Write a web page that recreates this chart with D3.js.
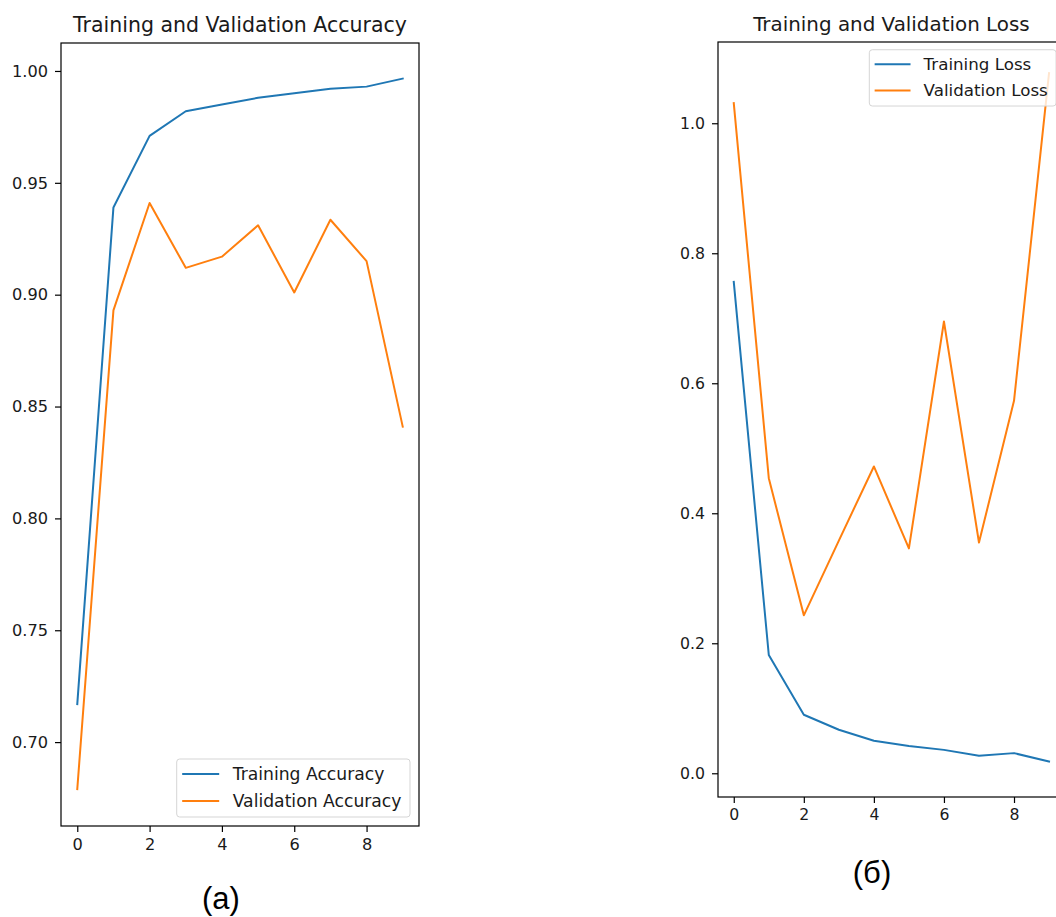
<!DOCTYPE html>
<html>
<head>
<meta charset="utf-8">
<script src="https://cdn.jsdelivr.net/npm/d3@7"></script>
<style>
    body { margin: 0; background: #fff; }
    svg { display: block; }
    text { font-family: "DejaVu Sans", sans-serif; fill: #1a1a1a; }
    .caption { font-family: "Liberation Sans", Arial, sans-serif; fill: #000; }
</style>
</head>
<body>
<svg id="fig"></svg>
<script>
// epochs on the x axis
const epochs = [0, 1, 2, 3, 4, 5, 6, 7, 8, 9];
const epochTicks = [0, 2, 4, 6, 8];

// panel (a): accuracy
const trainAcc = [0.717, 0.939, 0.971, 0.982, 0.985, 0.988, 0.990, 0.992, 0.993, 0.9966];
const valAcc = [0.679, 0.893, 0.941, 0.912, 0.917, 0.931, 0.901, 0.9335, 0.915, 0.841];
const accTicks = [0.70, 0.75, 0.80, 0.85, 0.90, 0.95, 1.00];
const accNames = ["Training Accuracy", "Validation Accuracy"];

// panel (б): loss
const trainLoss = [0.756, 0.182, 0.090, 0.067, 0.050, 0.042, 0.036, 0.027, 0.031, 0.018];
const valLoss = [1.031, 0.454, 0.243, 0.358, 0.472, 0.346, 0.695, 0.355, 0.573, 1.077];
const lossTicks = [0.0, 0.2, 0.4, 0.6, 0.8, 1.0];
const lossNames = ["Training Loss", "Validation Loss"];

const seriesColors = ["#1f77b4", "#ff7f0e"];

const svg = d3.select("#fig")
    .attr("width", 1056)
    .attr("height", 917)
    .attr("viewBox", [0, 0, 1056, 917]);

function drawLineChart(cfg) {
    var chartObj = {};
    const s = cfg.scale;
    chartObj.xScale = d3.scaleLinear().domain([-0.45, 9.45]).range([cfg.left, cfg.right]);
    chartObj.yScale = d3.scaleLinear().domain(cfg.yDomain).range([cfg.bottom, cfg.top]);

    chartObj.render = () => {
        const g = svg.append("g");
        const x = chartObj.xScale, y = chartObj.yScale;

        // lines
        const line = d3.line()
            .x(d => x(d[0]))
            .y(d => y(d[1]));
        cfg.series.forEach((vals, i) => {
            g.append("path")
                .attr("fill", "none")
                .attr("stroke", seriesColors[i])
                .attr("stroke-width", 2)
                .attr("stroke-linejoin", "round")
                .attr("stroke-linecap", "square")
                .attr("d", line(d3.zip(epochs, vals)));
        });

        // axes frame
        g.append("rect")
            .attr("x", cfg.left)
            .attr("y", cfg.top)
            .attr("width", cfg.right - cfg.left)
            .attr("height", cfg.bottom - cfg.top)
            .attr("fill", "none")
            .attr("stroke", "#000")
            .attr("stroke-width", 1.2);

        // x axis
        const xAxisGroup = g.append("g")
            .attr("transform", `translate(0,${cfg.bottom})`)
            .call(d3.axisBottom(x).tickValues(epochTicks).tickFormat(d3.format("d"))
                .tickSize(6).tickPadding(6));
        xAxisGroup.select(".domain").remove();

        // y axis
        const yAxisGroup = g.append("g")
            .attr("transform", `translate(${cfg.left},0)`)
            .call(d3.axisLeft(y).tickValues(cfg.yTicks).tickFormat(d3.format(cfg.yFormat))
                .tickSize(6).tickPadding(7));
        yAxisGroup.select(".domain").remove();

        [xAxisGroup, yAxisGroup].forEach(ax => {
            ax.attr("font-family", null).attr("font-size", null);
            ax.selectAll(".tick line").attr("stroke", "#000").attr("stroke-width", 1.2);
            ax.selectAll(".tick text").style("font-size", (16.2 * s) + "px");
        });

        // title
        g.append("text")
            .attr("x", (cfg.left + cfg.right) / 2)
            .attr("y", cfg.top - 11)
            .attr("text-anchor", "middle")
            .style("font-size", (20.5 * s) + "px")
            .text(cfg.title);

        // legend
        const fs = 17.2 * s;
        const leg = g.append("g");
        const box = leg.append("rect");
        let maxW = 0;
        cfg.names.forEach((name, i) => {
            const rowY = 15 * s + i * 27 * s;
            leg.append("line")
                .attr("x1", 5.5 * s).attr("x2", 5.5 * s + 37 * s)
                .attr("y1", rowY).attr("y2", rowY)
                .attr("stroke", seriesColors[i])
                .attr("stroke-width", 2);
            const t = leg.append("text")
                .attr("x", 56 * s)
                .attr("y", rowY)
                .attr("dy", "0.36em")
                .style("font-size", fs + "px")
                .text(name);
            maxW = Math.max(maxW, t.node().getComputedTextLength());
        });
        const boxW = 56 * s + maxW + 8.5 * s;
        const boxH = 58 * s;
        box.attr("width", boxW).attr("height", boxH)
            .attr("rx", 3)
            .attr("fill", "#fff")
            .attr("fill-opacity", 0.8)
            .attr("stroke", "#d5d5d5")
            .attr("stroke-width", 1);
        const lx = cfg.right - 9 * s - boxW;
        const ly = cfg.legendPos === "lower right" ? cfg.bottom - 9 * s - boxH : cfg.top + 8 * s;
        leg.attr("transform", `translate(${lx},${ly})`);

        // caption under the panel
        svg.append("text")
            .attr("class", "caption")
            .attr("x", cfg.captionX)
            .attr("y", cfg.captionY)
            .attr("text-anchor", "middle")
            .style("font-size", "31px")
            .text(cfg.caption);
    };
    return chartObj;
}

drawLineChart({
    left: 61, right: 419, top: 43, bottom: 826,
    yDomain: [0.6625, 1.0125],
    yTicks: accTicks, yFormat: ".2f",
    series: [trainAcc, valAcc],
    names: accNames,
    title: "Training and Validation Accuracy",
    legendPos: "lower right",
    caption: "(a)", captionX: 221, captionY: 909,
    scale: 1
}).render();

drawLineChart({
    left: 718, right: 1064.8, top: 42, bottom: 797,
    yDomain: [-0.0365, 1.125],
    yTicks: lossTicks, yFormat: ".1f",
    series: [trainLoss, valLoss],
    names: lossNames,
    title: "Training and Validation Loss",
    legendPos: "upper right",
    caption: "(б)", captionX: 872, captionY: 883,
    scale: 0.97
}).render();
</script>
</body>
</html>
